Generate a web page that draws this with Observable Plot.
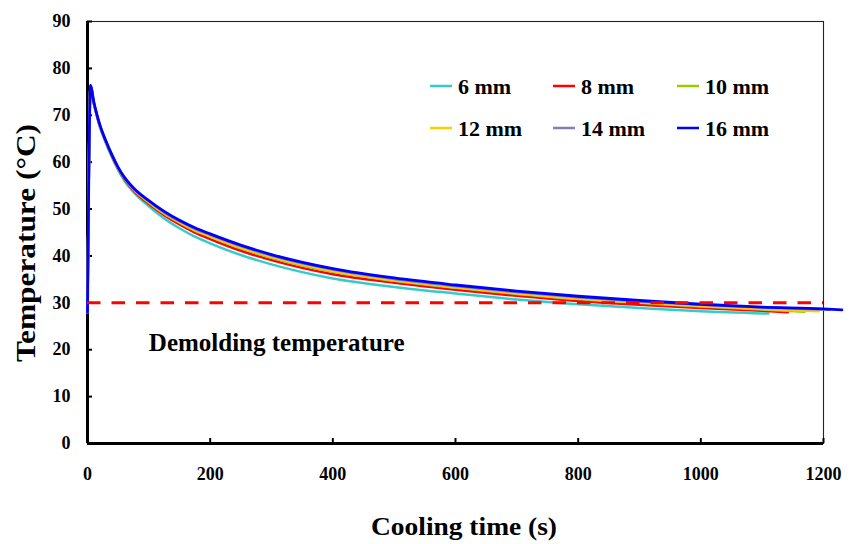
<!DOCTYPE html>
<html>
<head>
<meta charset="utf-8">
<script src="https://cdn.jsdelivr.net/npm/d3@7"></script>
<script src="https://cdn.jsdelivr.net/npm/@observablehq/plot@0.6"></script>
<style>
  html, body { margin: 0; padding: 0; background: #fff; }
  #chart { width: 856px; height: 544px; }
</style>
</head>
<body>
<div id="chart"></div>
<script>
// Plate thickness series (legend labels and colours)
const seriesNames = ["6 mm", "8 mm", "10 mm", "12 mm", "14 mm", "16 mm"];
const seriesColors = ["#33CCCC", "#FF0000", "#99CC00", "#FFCC00", "#8080B0", "#0000FF"];

// Cooling curves: time (s) and temperature (°C) for each thickness
const time6mm  = [0, 5, 10, 15, 20, 30, 40, 50, 60, 75, 100, 125, 150, 175, 200, 250, 300, 400, 500, 600, 700, 800, 900, 1000, 1110];
const temp6mm  = [28, 76.1, 72.7, 70.0, 67.6, 64.1, 61.0, 58.3, 56.1, 53.6, 50.6, 48.0, 45.9, 44.1, 42.7, 40.2, 38.2, 35.2, 33.4, 32.0, 30.7, 29.7, 28.9, 28.2, 27.7];

const time8mm  = [0, 5, 10, 15, 20, 30, 40, 50, 60, 75, 100, 125, 150, 175, 200, 250, 300, 400, 500, 600, 700, 800, 900, 1000, 1100, 1142];
const temp8mm  = [28, 76.2, 72.8, 70.1, 67.8, 64.3, 61.2, 58.6, 56.4, 54.0, 51.1, 48.7, 46.7, 45.0, 43.6, 41.1, 39.1, 36.1, 34.3, 32.8, 31.5, 30.4, 29.6, 28.9, 28.3, 28.0];

const time10mm = [0, 5, 10, 15, 20, 30, 40, 50, 60, 75, 100, 125, 150, 175, 200, 250, 300, 400, 500, 600, 700, 800, 900, 1000, 1100, 1169];
const temp10mm = [28, 76.3, 72.9, 70.2, 67.9, 64.4, 61.3, 58.7, 56.6, 54.2, 51.4, 49.0, 47.1, 45.4, 44.1, 41.6, 39.6, 36.6, 34.7, 33.2, 31.9, 30.8, 30.0, 29.2, 28.6, 28.1];

const time12mm = [0, 5, 10, 15, 20, 30, 40, 50, 60, 75, 100, 125, 150, 175, 200, 250, 300, 400, 500, 600, 700, 800, 900, 1000, 1100, 1192];
const temp12mm = [28, 76.3, 72.9, 70.2, 67.9, 64.4, 61.4, 58.7, 56.6, 54.3, 51.5, 49.1, 47.2, 45.5, 44.2, 41.8, 39.8, 36.8, 34.8, 33.3, 32.0, 30.9, 30.1, 29.3, 28.7, 28.2];

const time14mm = [0, 5, 10, 15, 20, 30, 40, 50, 60, 75, 100, 125, 150, 175, 200, 250, 300, 400, 500, 600, 700, 800, 900, 1000, 1100, 1210];
const temp14mm = [28, 76.4, 73.0, 70.3, 68.0, 64.5, 61.5, 58.8, 56.7, 54.4, 51.7, 49.3, 47.4, 45.8, 44.5, 42.1, 40.1, 37.1, 35.1, 33.6, 32.3, 31.2, 30.3, 29.6, 29.0, 28.5];

const time16mm = [0, 5, 10, 15, 20, 30, 40, 50, 60, 75, 100, 125, 150, 175, 200, 250, 300, 400, 500, 600, 700, 800, 900, 1000, 1100, 1200, 1230];
const temp16mm = [28, 76.4, 73.0, 70.3, 68.0, 64.5, 61.5, 58.9, 56.8, 54.5, 51.8, 49.5, 47.6, 46.0, 44.7, 42.3, 40.3, 37.3, 35.3, 33.8, 32.5, 31.4, 30.5, 29.7, 29.1, 28.7, 28.5];

// Demolding threshold
const demoldingTemp = 30;
const demoldingLabel = "Demolding temperature";
const demoldingLabelTime = 100;
const demoldingLabelTemp = 21.5;

// Axis ticks
const xTicks = [0, 200, 400, 600, 800, 1000, 1200];
const yTicks = [0, 10, 20, 30, 40, 50, 60, 70, 80, 90];

const seriesTimes = [time6mm, time8mm, time10mm, time12mm, time14mm, time16mm];
const seriesTemps = [temp6mm, temp8mm, temp10mm, temp12mm, temp14mm, temp16mm];

const rows = seriesNames.flatMap((name, i) =>
  seriesTimes[i].map((t, j) => ({series: name, t, T: seriesTemps[i][j]}))
);

const font = "'Liberation Serif', 'Times New Roman', serif";

const lineMarks = seriesNames.map((name, i) =>
  Plot.line(rows.filter(d => d.series === name), {
    x: "t", y: "T",
    stroke: seriesColors[i],
    strokeWidth: i === 5 ? 2.8 : 2.5,
    curve: "monotone-x"
  })
);

const chart = Plot.plot({
  width: 856,
  height: 544,
  marginLeft: 87,
  marginRight: 33,
  marginTop: 21,
  marginBottom: 101,
  style: {fontFamily: font, fontWeight: "bold", fontSize: "18px", color: "black", background: "white", overflow: "visible"},
  x: {domain: [0, 1200], label: null},
  y: {domain: [0, 90], label: null},
  marks: [
    Plot.frame({stroke: "#222", strokeWidth: 1.1}),
    Plot.axisX({ticks: xTicks, tickSize: -5, tickPadding: 29, strokeWidth: 2, label: null, tickFormat: d => String(d)}),
    Plot.axisY({ticks: yTicks, tickSize: -5, tickPadding: 22, strokeWidth: 2, label: null}),
    Plot.ruleX([0], {stroke: "black", strokeWidth: 3}),
    Plot.ruleY([0], {stroke: "black", strokeWidth: 3}),
    ...lineMarks,
    Plot.ruleY([demoldingTemp], {stroke: "#FF0000", strokeWidth: 3, strokeDasharray: "13.5,11"}),
    Plot.text([demoldingLabel], {
      x: demoldingLabelTime, y: demoldingLabelTemp, text: d => d,
      textAnchor: "start", fontSize: 25, fontWeight: "bold", fill: "black"
    })
  ]
});

document.getElementById("chart").appendChild(chart);

const svg = d3.select(chart);

// Legend: two rows of three entries inside the plot area
const legendCols = [430, 553, 677];
const legendRows = [86, 128];
const legend = svg.append("g")
  .attr("font-family", font).attr("font-weight", "bold").attr("font-size", 22)
  .attr("text-anchor", "start");
seriesNames.forEach((name, i) => {
  const cx = legendCols[i % 3];
  const cy = legendRows[Math.floor(i / 3)];
  legend.append("line")
    .attr("x1", cx).attr("x2", cx + 22)
    .attr("y1", cy).attr("y2", cy)
    .attr("stroke", seriesColors[i]).attr("stroke-width", 2.5);
  legend.append("text")
    .attr("x", cx + 28).attr("y", cy + 8)
    .attr("fill", "black")
    .text(name);
});

// Axis titles
svg.append("text")
  .attr("x", 464).attr("y", 535)
  .attr("text-anchor", "middle")
  .attr("font-family", font).attr("font-weight", "bold").attr("font-size", 26)
  .attr("textLength", 186).attr("lengthAdjust", "spacingAndGlyphs")
  .attr("fill", "black")
  .text("Cooling time (s)");

svg.append("text")
  .attr("transform", "translate(35,243) rotate(-90)")
  .attr("text-anchor", "middle")
  .attr("font-family", font).attr("font-weight", "bold").attr("font-size", 27)
  .attr("textLength", 238).attr("lengthAdjust", "spacingAndGlyphs")
  .attr("fill", "black")
  .text("Temperature (°C)");
</script>
</body>
</html>
